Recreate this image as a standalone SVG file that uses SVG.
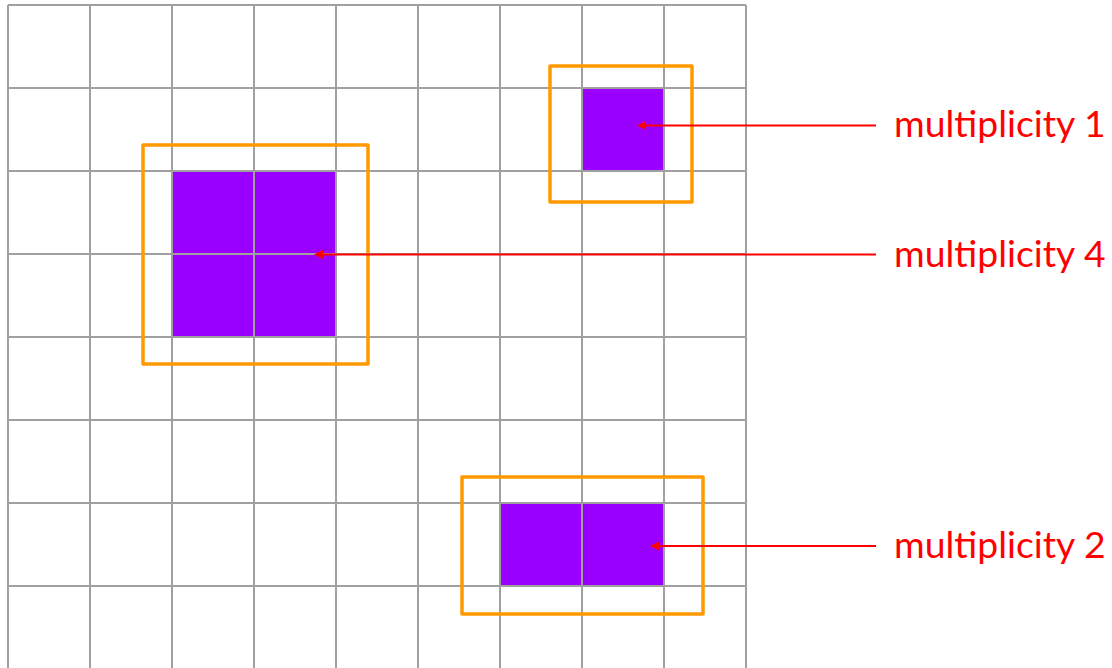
<svg xmlns="http://www.w3.org/2000/svg" width="1112" height="668" viewBox="0 0 1112 668">
  <style>
    .grid line { stroke: #a0a0a0; stroke-width: 2; }
    .cell { fill: #9900ff; }
    .box { fill: none; stroke: #ff9900; stroke-width: 3.5; stroke-linejoin: round; }
    .conn { stroke: #ff0000; stroke-width: 2; fill: none; }
    .label { font-family: Lato, "Liberation Sans", sans-serif; font-size: 37.3px; fill: #ff0000; }
  </style>
  <defs>
    <marker id="arrow" viewBox="0 0 10 10" refX="0" refY="5" markerWidth="5" markerHeight="4.5" orient="auto-start-reverse" markerUnits="strokeWidth">
      <path d="M0,0 L10,5 L0,10 z" fill="#ff0000"/>
    </marker>
  </defs>
  <rect x="0" y="0" width="1112" height="668" fill="#ffffff"/>
  <g id="cells">
    <rect class="cell" x="582" y="88" width="82" height="83"/>
    <rect class="cell" x="172" y="171" width="164" height="166"/>
    <rect class="cell" x="500" y="503" width="164" height="83"/>
  </g>
  <g class="grid" id="grid">
    <line x1="8" y1="5" x2="8" y2="668"/>
    <line x1="90" y1="5" x2="90" y2="668"/>
    <line x1="172" y1="5" x2="172" y2="668"/>
    <line x1="254" y1="5" x2="254" y2="668"/>
    <line x1="336" y1="5" x2="336" y2="668"/>
    <line x1="418" y1="5" x2="418" y2="668"/>
    <line x1="500" y1="5" x2="500" y2="668"/>
    <line x1="582" y1="5" x2="582" y2="668"/>
    <line x1="664" y1="5" x2="664" y2="668"/>
    <line x1="746" y1="5" x2="746" y2="668"/>
    <line x1="8" y1="5" x2="746" y2="5"/>
    <line x1="8" y1="88" x2="746" y2="88"/>
    <line x1="8" y1="171" x2="746" y2="171"/>
    <line x1="8" y1="254" x2="746" y2="254"/>
    <line x1="8" y1="337" x2="746" y2="337"/>
    <line x1="8" y1="420" x2="746" y2="420"/>
    <line x1="8" y1="503" x2="746" y2="503"/>
    <line x1="8" y1="586" x2="746" y2="586"/>
  </g>
  <g id="node-m1">
    <rect class="box" x="550" y="66" width="142" height="136"/>
    <text class="label" x="894" y="137">multiplicity 1</text>
  </g>
  <g id="node-m4">
    <rect class="box" x="143" y="145" width="225" height="219"/>
    <text class="label" x="894" y="267">multiplicity 4</text>
  </g>
  <g id="node-m2">
    <rect class="box" x="462" y="477" width="241" height="137"/>
    <text class="label" x="894" y="558">multiplicity 2</text>
  </g>
  <g id="connectors">
    <line class="conn" x1="876" y1="125.5" x2="646" y2="125.5" marker-end="url(#arrow)"/>
    <line class="conn" x1="876" y1="254.5" x2="323" y2="254.5" marker-end="url(#arrow)"/>
    <line class="conn" x1="876" y1="546" x2="659" y2="546" marker-end="url(#arrow)"/>
  </g>
</svg>
